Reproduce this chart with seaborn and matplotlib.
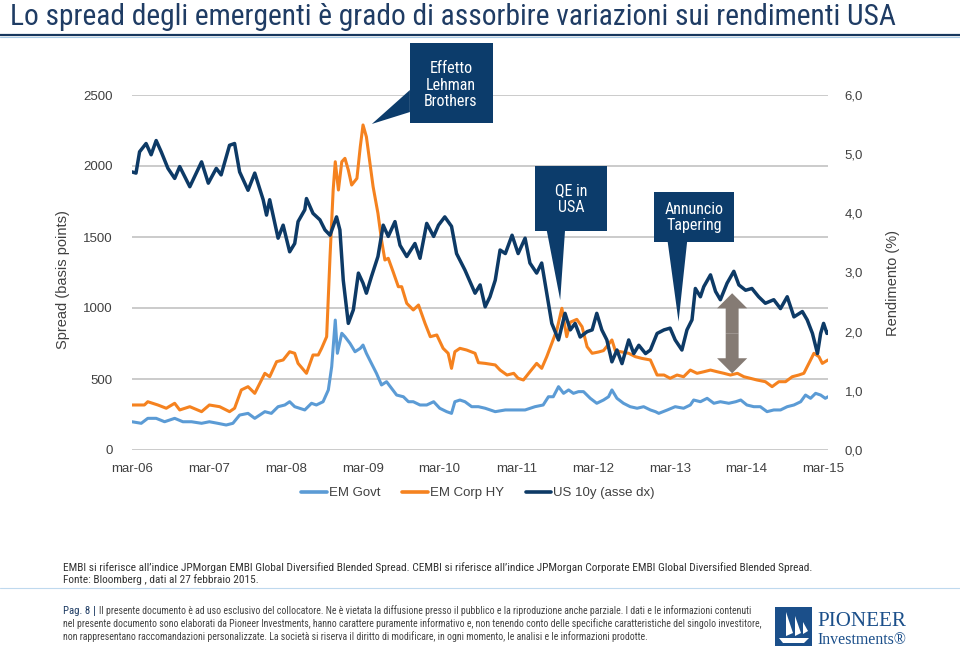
import numpy as np
import pandas as pd
import matplotlib
matplotlib.use("Agg")
import matplotlib.pyplot as plt
import matplotlib.dates as mdates
from matplotlib import font_manager as fm
from matplotlib.patches import Polygon, Rectangle, FancyArrowPatch
from matplotlib.lines import Line2D
import seaborn as sns

sns.set_theme(style="white")
plt.rcParams["font.family"] = ["Liberation Sans", "DejaVu Sans"]

# ---------------- data ----------------
govt_dates = ["2006-02-27", "2006-04-12", "2006-05-13", "2006-06-22", "2006-08-01", "2006-09-18",
              "2006-10-27", "2006-12-07", "2007-01-24", "2007-03-02", "2007-04-11", "2007-05-21",
              "2007-06-22", "2007-07-24", "2007-09-02", "2007-10-04", "2007-11-21", "2007-12-22",
              "2008-01-23", "2008-02-24", "2008-03-18", "2008-04-11", "2008-05-29", "2008-06-30",
              "2008-07-23", "2008-08-24", "2008-09-18", "2008-10-04", "2008-10-21", "2008-10-31",
              "2008-11-21", "2008-12-06", "2008-12-30", "2009-01-23", "2009-02-17", "2009-03-02",
              "2009-03-18", "2009-04-11", "2009-05-05", "2009-05-29", "2009-06-22", "2009-07-16",
              "2009-08-09", "2009-09-10", "2009-10-04", "2009-10-27", "2009-11-28", "2009-12-30",
              "2010-02-01", "2010-03-02", "2010-04-04", "2010-04-27", "2010-05-13", "2010-06-06",
              "2010-06-30", "2010-08-01", "2010-09-02", "2010-10-04", "2010-11-21", "2011-01-08",
              "2011-02-24", "2011-04-12", "2011-05-29", "2011-07-07", "2011-08-01", "2011-08-24",
              "2011-09-18", "2011-10-12", "2011-11-05", "2011-11-28", "2011-12-22", "2012-01-15",
              "2012-02-16", "2012-03-18", "2012-04-19", "2012-05-13", "2012-05-29", "2012-06-22",
              "2012-07-23", "2012-08-24", "2012-09-26", "2012-10-27", "2012-11-28", "2012-12-22",
              "2013-01-07", "2013-02-17", "2013-03-26", "2013-05-05", "2013-06-06", "2013-06-22",
              "2013-07-24", "2013-08-25", "2013-09-26", "2013-10-27", "2013-12-06", "2014-01-08",
              "2014-02-01", "2014-03-02", "2014-04-04", "2014-05-05", "2014-06-06", "2014-07-08",
              "2014-08-09", "2014-09-10", "2014-10-12", "2014-11-13", "2014-12-06", "2014-12-30",
              "2015-01-23", "2015-02-16", "2015-03-10", "2015-03-23"]
govt_values = [199, 188, 223, 223, 199, 223,
               199, 199, 188, 199, 188, 176,
               188, 246, 258, 223, 270, 258,
               305, 317, 340, 305, 282, 329,
               317, 340, 423, 587, 915, 681,
               822, 798, 751, 692, 716, 739,
               681, 610, 540, 458, 481, 434,
               387, 375, 340, 340, 317, 317,
               340, 294, 270, 258, 340, 352,
               340, 305, 305, 294, 270, 282,
               282, 282, 305, 317, 375, 375,
               446, 399, 423, 399, 411, 411,
               364, 329, 352, 375, 423, 364,
               329, 305, 294, 305, 282, 270,
               258, 282, 305, 294, 317, 352,
               340, 364, 329, 340, 329, 340,
               352, 317, 305, 305, 270, 282,
               282, 305, 317, 340, 387, 364,
               399, 387, 364, 375]

corp_dates = ["2006-02-27", "2006-04-27", "2006-05-13", "2006-06-30", "2006-08-09", "2006-09-18",
              "2006-10-12", "2006-11-29", "2007-01-24", "2007-03-02", "2007-04-20", "2007-06-06",
              "2007-06-30", "2007-08-01", "2007-09-02", "2007-10-04", "2007-11-21", "2007-12-14",
              "2008-01-16", "2008-02-16", "2008-03-18", "2008-04-11", "2008-04-27", "2008-06-06",
              "2008-07-07", "2008-08-01", "2008-08-17", "2008-09-10", "2008-09-26", "2008-10-11",
              "2008-10-21", "2008-11-05", "2008-11-21", "2008-12-06", "2008-12-22", "2009-01-07",
              "2009-02-01", "2009-02-17", "2009-03-02", "2009-03-18", "2009-04-04", "2009-04-19",
              "2009-05-12", "2009-05-29", "2009-06-14", "2009-06-30", "2009-07-23", "2009-08-17",
              "2009-09-02", "2009-09-26", "2009-10-27", "2009-11-21", "2009-12-22", "2010-01-16",
              "2010-02-16", "2010-03-18", "2010-04-11", "2010-04-27", "2010-05-13", "2010-06-06",
              "2010-07-08", "2010-08-17", "2010-09-02", "2010-10-04", "2010-11-21", "2010-12-14",
              "2011-01-16", "2011-02-17", "2011-03-10", "2011-04-04", "2011-05-05", "2011-06-06",
              "2011-06-30", "2011-07-24", "2011-08-17", "2011-09-10", "2011-10-04", "2011-10-16",
              "2011-10-27", "2011-11-13", "2011-12-14", "2012-01-08", "2012-02-01", "2012-02-25",
              "2012-03-26", "2012-04-19", "2012-05-29", "2012-06-14", "2012-07-16", "2012-08-17",
              "2012-09-18", "2012-10-19", "2012-11-28", "2012-12-30", "2013-02-01", "2013-03-02",
              "2013-04-04", "2013-05-05", "2013-06-06", "2013-07-08", "2013-08-09", "2013-09-10",
              "2013-10-12", "2013-11-13", "2013-12-14", "2014-01-16", "2014-02-16", "2014-03-18",
              "2014-04-19", "2014-05-29", "2014-06-30", "2014-08-01", "2014-09-02", "2014-10-04",
              "2014-11-04", "2014-11-28", "2014-12-22", "2015-01-15", "2015-02-08", "2015-02-24",
              "2015-03-23"]
corp_values = [317, 317, 340, 317, 294, 329,
               282, 305, 270, 317, 305, 270,
               294, 423, 446, 399, 540, 516,
               622, 634, 692, 681, 610, 540,
               669, 669, 716, 798, 1361, 1831,
               2030, 1831, 2030, 2054, 1972, 1866,
               1913, 2136, 2289, 2206, 2019, 1854,
               1667, 1479, 1338, 1350, 1256, 1150,
               1150, 1033, 986, 1021, 892, 798,
               810, 716, 681, 575, 692, 716,
               704, 681, 615, 610, 599, 563,
               528, 540, 505, 493, 551, 610,
               575, 657, 751, 845, 998, 892,
               798, 900, 920, 868, 727, 681,
               690, 700, 775, 700, 690, 681,
               657, 645, 634, 528, 528, 505,
               528, 516, 563, 540, 551, 563,
               551, 540, 528, 540, 516, 505,
               493, 481, 446, 481, 481, 516,
               528, 540, 610, 681, 657, 610,
               634]

us10y_dates = ["2006-02-27", "2006-03-18", "2006-04-04", "2006-05-05", "2006-05-29", "2006-06-22",
               "2006-07-16", "2006-08-17", "2006-09-18", "2006-10-12", "2006-11-29", "2007-01-24",
               "2007-02-25", "2007-04-04", "2007-04-27", "2007-06-06", "2007-06-30", "2007-07-24",
               "2007-09-02", "2007-10-04", "2007-11-13", "2007-11-29", "2007-12-14", "2008-01-23",
               "2008-02-16", "2008-03-18", "2008-04-11", "2008-04-27", "2008-05-29", "2008-06-06",
               "2008-07-07", "2008-08-09", "2008-09-02", "2008-09-26", "2008-10-27", "2008-11-12",
               "2008-11-28", "2008-12-22", "2009-01-15", "2009-02-08", "2009-03-02", "2009-03-18",
               "2009-04-11", "2009-05-12", "2009-06-06", "2009-06-30", "2009-08-01", "2009-08-25",
               "2009-09-26", "2009-11-04", "2009-11-28", "2009-12-30", "2010-02-01", "2010-02-24",
               "2010-03-26", "2010-04-27", "2010-05-21", "2010-06-30", "2010-08-17", "2010-09-10",
               "2010-10-04", "2010-10-27", "2010-11-21", "2010-12-14", "2011-01-08", "2011-02-09",
               "2011-03-10", "2011-04-12", "2011-05-05", "2011-06-06", "2011-06-30", "2011-07-24",
               "2011-08-17", "2011-09-18", "2011-10-19", "2011-11-13", "2011-12-06", "2011-12-30",
               "2012-02-01", "2012-02-25", "2012-03-18", "2012-04-11", "2012-05-05", "2012-05-29",
               "2012-06-22", "2012-07-16", "2012-08-17", "2012-09-10", "2012-10-04", "2012-11-05",
               "2012-11-28", "2012-12-30", "2013-02-01", "2013-03-02", "2013-03-26", "2013-04-27",
               "2013-05-21", "2013-06-14", "2013-06-30", "2013-07-24", "2013-08-09", "2013-09-10",
               "2013-10-04", "2013-10-27", "2013-11-28", "2013-12-30", "2014-01-23", "2014-02-24",
               "2014-03-26", "2014-04-27", "2014-05-29", "2014-07-08", "2014-08-09", "2014-09-10",
               "2014-10-12", "2014-11-21", "2014-12-14", "2015-01-08", "2015-02-01", "2015-02-16",
               "2015-03-02", "2015-03-18", "2015-03-23"]
us10y_values = [4.70, 4.68, 5.04, 5.18, 4.99, 5.23,
                5.04, 4.76, 4.59, 4.79, 4.45, 4.87,
                4.51, 4.76, 4.65, 5.15, 5.18, 4.70,
                4.39, 4.68, 4.23, 3.97, 4.23, 3.58,
                3.80, 3.35, 3.49, 3.86, 4.06, 4.25,
                4.00, 3.89, 3.72, 3.63, 3.94, 3.72,
                2.87, 2.14, 2.37, 2.99, 2.82, 2.65,
                2.93, 3.27, 3.80, 3.61, 3.86, 3.46,
                3.27, 3.49, 3.24, 3.83, 3.61, 3.80,
                3.94, 3.78, 3.32, 3.04, 2.65, 2.79,
                2.42, 2.59, 2.87, 3.38, 3.32, 3.63,
                3.32, 3.58, 3.16, 2.99, 3.16, 2.65,
                2.14, 1.86, 2.31, 2.03, 2.14, 1.91,
                2.00, 2.03, 2.31, 2.03, 1.86, 1.49,
                1.69, 1.46, 1.86, 1.63, 1.77, 1.63,
                1.69, 1.97, 2.03, 2.06, 1.86, 1.69,
                2.03, 2.20, 2.73, 2.59, 2.76, 2.96,
                2.68, 2.54, 2.82, 3.02, 2.79, 2.70,
                2.73, 2.59, 2.48, 2.54, 2.39, 2.59,
                2.25, 2.34, 2.20, 1.97, 1.63, 1.97,
                2.14, 1.97, 2.00]

series_names = ["EM Govt", "EM Corp HY", "US 10y (asse dx)"]
x_tick_dates = ["2006-03-01", "2007-03-01", "2008-03-01", "2009-03-01", "2010-03-01",
                "2011-03-01", "2012-03-01", "2013-03-01", "2014-03-01", "2015-03-01"]
x_tick_labels = ["mar-06", "mar-07", "mar-08", "mar-09", "mar-10",
                 "mar-11", "mar-12", "mar-13", "mar-14", "mar-15"]
left_ticks = [0, 500, 1000, 1500, 2000, 2500]
right_ticks = [0, 1, 2, 3, 4, 5, 6]
right_tick_labels = ["0,0", "1,0", "2,0", "3,0", "4,0", "5,0", "6,0"]

title = "Lo spread degli emergenti è grado di assorbire variazioni sui rendimenti USA"
note_lines = ["EMBI si riferisce all\u2019indice JPMorgan EMBI Global Diversified Blended Spread. CEMBI si riferisce all\u2019indice JPMorgan Corporate EMBI Global Diversified Blended Spread.",
              "Fonte: Bloomberg , dati al 27 febbraio 2015."]
footer_lines = ["Il presente documento è ad uso esclusivo del collocatore. Ne è vietata la diffusione presso il pubblico e la riproduzione anche parziale. I dati e le informazioni contenuti",
                "nel presente documento sono elaborati da Pioneer Investments, hanno carattere puramente informativo e, non tenendo conto delle specifiche caratteristiche del singolo investitore,",
                "non rappresentano raccomandazioni personalizzate. La società si riserva il diritto di modificare, in ogni momento, le analisi e le informazioni prodotte."]

# callouts: text, text anchor, box (x0, x1, y0, y1) and pointer triangle, in data units
callouts = [
    ("Effetto\nLehman\nBrothers", ("2010-04-24", 2570),
     ("2009-10-10", "2010-11-11", 2303, 2868),
     [("2009-04-13", 2296), ("2009-10-11", 2535), ("2009-10-11", 2380)]),
    ("QE in\nUSA", ("2011-11-17", 1768),
     ("2011-05-29", "2012-05-05", 1544, 2000),
     [("2011-07-24", 1546), ("2011-09-26", 1056), ("2011-10-19", 1546)]),
    ("Annuncio\nTapering", ("2013-06-24", 1637),
     ("2012-12-17", "2013-12-30", 1467, 1819),
     [("2013-02-18", 1469), ("2013-04-11", 904), ("2013-05-22", 1469)]),
]
gap_arrow = ("2013-12-22", 540, 1104)

# ---------------- fonts ----------------
def pick_narrow():
    prefs = ["Liberation Sans Narrow", "Roboto Condensed", "Open Sans Condensed",
             "Noto Sans Condensed"]
    regular = [f for f in fm.fontManager.ttflist
               if f.style == "normal" and f.weight in (400, "normal", "regular", "book")]
    for p in prefs:
        for f in regular:
            if f.name == p:
                return fm.FontProperties(fname=f.fname)
    for f in regular:
        if "Condensed" in f.name or "Narrow" in f.name or \
                str(f.stretch) in ("condensed", "semi-condensed", "extra-condensed"):
            return fm.FontProperties(fname=f.fname)
    return fm.FontProperties(family=["Lato", "Liberation Sans"])

NARROW = pick_narrow()

def nf(size):
    p = NARROW.copy()
    p.set_size(size)
    return p

# ---------------- styles ----------------
C_GOVT = "#5B9BD5"
C_CORP = "#F5821F"
C_US = "#0D3A66"
C_BOX = "#0C3C6B"
C_ARROW = "#857B74"
C_TXT = "#404040"
C_TITLE = "#1F3C64"

W, H = 960, 651
fig = plt.figure(figsize=(W / 100, H / 100), dpi=100)
fig.patch.set_facecolor("white")
ax = fig.add_axes([132 / W, 1 - 450 / H, 696 / W, 355 / H])
ax2 = ax.twinx()

df_govt = pd.DataFrame({"date": pd.to_datetime(govt_dates), "value": govt_values})
df_corp = pd.DataFrame({"date": pd.to_datetime(corp_dates), "value": corp_values})
df_us = pd.DataFrame({"date": pd.to_datetime(us10y_dates), "value": us10y_values})

sns.lineplot(data=df_govt, x="date", y="value", ax=ax, color=C_GOVT, lw=2.2, zorder=3)
sns.lineplot(data=df_corp, x="date", y="value", ax=ax, color=C_CORP, lw=2.2, zorder=4)
sns.lineplot(data=df_us, x="date", y="value", ax=ax2, color=C_US, lw=2.5, zorder=3)

xmin, xmax = pd.Timestamp("2006-02-27"), pd.Timestamp("2015-03-23")
for a in (ax, ax2):
    a.set_xlim(xmin, xmax)
    a.set_xlabel("")
    a.set_ylabel("")
    for s in a.spines.values():
        s.set_visible(False)

ax.set_ylim(0, 2500)
ax2.set_ylim(0, 6)
ax.set_yticks(left_ticks)
ax.set_yticklabels([str(v) for v in left_ticks])
ax2.set_yticks(right_ticks)
ax2.set_yticklabels(right_tick_labels)
ax.set_xticks(pd.to_datetime(x_tick_dates))
ax.set_xticklabels(x_tick_labels)
ax.grid(False)
ax2.grid(False)
ax.yaxis.grid(True, color="#BDBDBD", lw=1.1)
ax.set_axisbelow(True)
ax.tick_params(axis="y", length=0, pad=14, labelsize=9.5, labelcolor=C_TXT)
ax.tick_params(axis="x", length=0, pad=9, labelsize=9.5, labelcolor=C_TXT)
ax2.tick_params(axis="y", length=0, pad=12, labelsize=9.5, labelcolor=C_TXT)
ax.patch.set_visible(False)

def d(s):
    return mdates.date2num(pd.Timestamp(s))

# callouts (drawn on top axis, in left-axis data coords)
for text, (tx, ty), (bx0, bx1, by0, by1), tri in callouts:
    rect = Rectangle((d(bx0), by0), d(bx1) - d(bx0), by1 - by0, transform=ax.transData,
                     facecolor=C_BOX, edgecolor="none", zorder=10, clip_on=False)
    ax2.add_patch(rect)
    poly = Polygon([(d(px), py) for px, py in tri], closed=True, transform=ax.transData,
                   facecolor=C_BOX, edgecolor="none", zorder=10, clip_on=False)
    ax2.add_patch(poly)
    ax2.text(d(tx), ty, text, transform=ax.transData, ha="center", va="center",
             color="white", fontproperties=nf(11.5), linespacing=1.15, zorder=11)

# gray double arrow
gx, gy0, gy1 = gap_arrow
gmid = (gy0 + gy1) / 2
for end in (gy0, gy1):
    arr = FancyArrowPatch((d(gx), gmid), (d(gx), end), transform=ax.transData,
                          arrowstyle="simple,head_length=0.7,head_width=1.4,tail_width=0.6",
                          mutation_scale=15.5, color=C_ARROW, lw=0, shrinkA=0, shrinkB=0,
                          zorder=12)
    ax2.add_patch(arr)

# axis titles
fig.text(63 / W, 1 - 280 / H, "Spread (basis points)", rotation=90, ha="center", va="center",
         fontsize=10.5, color=C_TXT)
fig.text(893 / W, 1 - 283 / H, "Rendimento (%)", rotation=90, ha="center", va="center",
         fontsize=10.5, color=C_TXT)

# legend
handles = [Line2D([], [], color=c, lw=2.6) for c in (C_GOVT, C_CORP, C_US)]
fig.legend(handles, series_names, loc="center", bbox_to_anchor=(478 / W, 1 - 493 / H), ncol=3,
           frameon=False, fontsize=9.5, handlelength=1.9, handletextpad=0.15, columnspacing=1.7,
           labelcolor=C_TXT)

# title and rules
t_title = fig.text(10 / W, 1 - 17 / H, title, ha="left", va="center",
                   color=C_TITLE, fontproperties=nf(17))
fig.add_artist(Line2D([0, 1], [1 - 34.5 / H] * 2, color="#17375E", lw=1.6))
fig.add_artist(Line2D([0, 1], [1 - 37 / H] * 2, color="#A9CBE6", lw=0.8))
fig.add_artist(Line2D([0, 1], [1 - 588 / H] * 2, color="#BFD9EE", lw=0.8))

# notes
t_n1 = fig.text(63 / W, 1 - 568 / H, note_lines[0], ha="left", va="center",
                color="#333333", fontproperties=nf(7.5))
t_n2 = fig.text(63 / W, 1 - 580 / H, note_lines[1], ha="left", va="center",
                color="#333333", fontproperties=nf(7.5))

# footer
t_f1 = fig.text(92 / W, 1 - 611 / H, footer_lines[0], ha="left", va="center",
                color="#444444", fontproperties=nf(6.5))
t_f2 = fig.text(63 / W, 1 - 624 / H, footer_lines[1], ha="left", va="center",
                color="#444444", fontproperties=nf(6.5))
t_f3 = fig.text(63 / W, 1 - 637 / H, footer_lines[2], ha="left", va="center",
                color="#444444", fontproperties=nf(6.5))

# logo
fig.add_artist(Rectangle((775 / W, 1 - 646 / H), 37 / W, 39 / H, transform=fig.transFigure,
                         facecolor="#1B4F8A", edgecolor="none"))
for sx, top, bot, wdt in [(786, 612, 636, 7), (795, 616, 636, 6), (803, 622, 634, 5)]:
    fig.add_artist(Polygon([(sx / W, 1 - top / H), ((sx + wdt) / W, 1 - (bot - 3) / H),
                            (sx / W, 1 - bot / H)], closed=True, transform=fig.transFigure,
                           facecolor="white", edgecolor="none"))
fig.add_artist(Polygon([(779 / W, 1 - 638 / H), (809 / W, 1 - 638 / H), (804 / W, 1 - 643 / H),
                        (783 / W, 1 - 643 / H)], closed=True, transform=fig.transFigure,
                       facecolor="white", edgecolor="none"))
t_p = fig.text(817 / W, 1 - 622 / H, "PIONEER", ha="left", va="center", fontsize=17,
               color="#1B4F8A", family=["Liberation Serif", "DejaVu Serif"])
t_i = fig.text(817 / W, 1 - 640 / H, "Investments\u00ae", ha="left", va="center", fontsize=13,
               color="#1B4F8A", family=["Liberation Serif", "DejaVu Serif"])

# fit text widths to reference
fig.canvas.draw()
rend = fig.canvas.get_renderer()

def fit(t, target):
    w = t.get_window_extent(rend).width
    t.set_fontsize(t.get_fontsize() * target / w)

fit(t_title, 887)
fit(t_n1, 752)
t_n2.set_fontsize(t_n1.get_fontsize())
fit(t_f2, 694)
for t in (t_f1, t_f3):
    t.set_fontsize(t_f2.get_fontsize())
fit(t_p, 89)
fit(t_i, 89)

fs_foot = t_f2.get_fontsize()
pag_fp = NARROW.copy()
pag_fp.set_size(fs_foot * 1.1)
pag_fp.set_weight("bold")
t_pag = fig.text(63 / W, 1 - 611 / H, "Pag. 8", ha="left", va="center", color=C_TITLE,
                 fontproperties=pag_fp, fontweight="bold")
t_bar = fig.text(86 / W, 1 - 611 / H, "|", ha="center", va="center", color=C_TITLE,
                 fontsize=fs_foot * 1.1)

# place the separator and first footer line right after "Pag. 8"
fig.canvas.draw()
pag_end = t_pag.get_window_extent(rend).x1
t_bar.set_x((pag_end + 4) / W)
t_f1.set_x((pag_end + 9) / W)

fig.savefig("out.png", dpi=100, facecolor="white")
